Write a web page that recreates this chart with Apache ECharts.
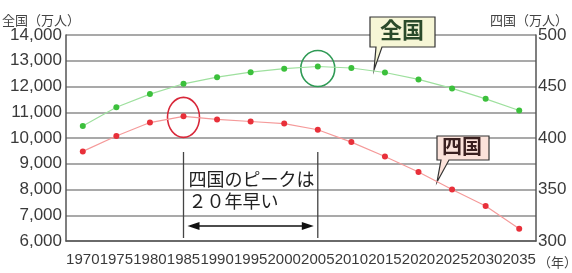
<!DOCTYPE html>
<html>
<head>
<meta charset="utf-8">
<script src="https://cdn.jsdelivr.net/npm/echarts@6/dist/echarts.min.js"></script>
<style>
  html, body { margin: 0; padding: 0; background: #fff; }
  #chart { width: 572px; height: 273px; }
</style>
</head>
<body>
<div id="chart"></div>
<script>
var years = ['1970', '1975', '1980', '1985', '1990', '1995', '2000', '2005', '2010', '2015', '2020', '2025', '2030', '2035']
// 全国（万人）
var zenkoku = [10467, 11194, 11706, 12105, 12361, 12557, 12693, 12777, 12718, 12543, 12274, 11927, 11522, 11068]
// 四国（万人）
var shikoku = [387, 402, 415, 421, 418, 416, 414, 408, 396, 382, 367, 350, 334, 312]

var jp = '"Noto Sans CJK JP", sans-serif'
var num = '"Liberation Sans", Arial, sans-serif'

var myChart = echarts.init(document.getElementById('chart'))
var option = {
  animation: false,
  grid: { left: 66, right: 36, top: 35, bottom: 32 },
  xAxis: {
    type: 'category',
    data: years,
    boundaryGap: true,
    axisLine: { lineStyle: { color: '#555', width: 1.5 } },
    axisTick: { inside: true, alignWithLabel: true, length: 4, lineStyle: { color: '#777' } },
    axisLabel: { interval: 0, fontSize: 15, fontFamily: num, color: '#3a3a3a', margin: 11 }
  },
  yAxis: [
    {
      type: 'value',
      min: 6000,
      max: 14000,
      interval: 1000,
      axisLine: { show: true, lineStyle: { color: '#555', width: 1.5 } },
      axisTick: { show: false },
      splitLine: { lineStyle: { color: '#8c8c8c', width: 1.6 } },
      axisLabel: {
        fontSize: 17, fontFamily: num, color: '#3a3a3a', margin: 4,
        formatter: function (v) { return v.toLocaleString('en-US') }
      }
    },
    {
      type: 'value',
      min: 300,
      max: 500,
      interval: 50,
      position: 'right',
      axisLine: { show: true, lineStyle: { color: '#555', width: 1.5 } },
      axisTick: { show: false },
      splitLine: { show: false },
      axisLabel: { fontSize: 17, fontFamily: num, color: '#3a3a3a', margin: 2 }
    }
  ],
  series: [
    {
      name: '全国',
      type: 'line',
      yAxisIndex: 0,
      data: zenkoku,
      symbol: 'circle',
      symbolSize: 6,
      lineStyle: { color: '#9ee09e', width: 1.2 },
      itemStyle: { color: '#3cc03c' }
    },
    {
      name: '四国',
      type: 'line',
      yAxisIndex: 1,
      data: shikoku,
      symbol: 'circle',
      symbolSize: 6,
      lineStyle: { color: '#f59a9a', width: 1.2 },
      itemStyle: { color: '#e8303a' }
    }
  ]
}
myChart.setOption(option)

// 注釈（データ点の位置から計算）
var pRed = myChart.convertToPixel({ xAxisIndex: 0, yAxisIndex: 1 }, ['1985', shikoku[3]])
var pGreen = myChart.convertToPixel({ xAxisIndex: 0, yAxisIndex: 0 }, ['2005', zenkoku[7]])
var x85 = pRed[0]
var x05 = pGreen[0]

myChart.setOption({
  graphic: [
    { type: 'text', left: 2, top: 14, style: { text: '全国（万人）', font: '13px ' + jp, fill: '#444' } },
    { type: 'text', right: 4, top: 14, style: { text: '四国（万人）', font: '13px ' + jp, fill: '#444' } },
    { type: 'text', left: 538, top: 256, style: { text: '（年）', font: '13px ' + jp, fill: '#444' } },
    {
      type: 'ellipse',
      shape: { cx: pRed[0], cy: pRed[1] + 1, rx: 16, ry: 20 },
      style: { fill: 'none', stroke: '#d8283a', lineWidth: 1.6 }
    },
    {
      type: 'ellipse',
      shape: { cx: pGreen[0], cy: pGreen[1] + 2, rx: 17, ry: 18 },
      style: { fill: 'none', stroke: '#2f9a55', lineWidth: 1.6 }
    },
    {
      type: 'polygon',
      shape: { points: [[370, 17], [435, 17], [435, 47], [382, 47], [374, 70], [376, 47], [370, 47]] },
      style: { fill: '#f6f6d6', stroke: '#333', lineWidth: 1.2 }
    },
    { type: 'text', left: 380, top: 19, style: { text: '全国', font: 'bold 22px ' + jp, fill: '#2a4a2a' } },
    {
      type: 'polygon',
      shape: { points: [[437, 136], [489, 136], [489, 160], [449, 160], [437, 182], [441, 160], [437, 160]] },
      style: { fill: '#fbe2da', stroke: '#333', lineWidth: 1.2 }
    },
    { type: 'text', left: 442, top: 136, style: { text: '四国', font: 'bold 20px ' + jp, fill: '#3a2020' } },
    { type: 'line', shape: { x1: x85, y1: 152, x2: x85, y2: 238 }, style: { stroke: '#444', lineWidth: 1.3 } },
    { type: 'line', shape: { x1: x05, y1: 152, x2: x05, y2: 238 }, style: { stroke: '#444', lineWidth: 1.3 } },
    { type: 'text', left: x85 + 5, top: 170, style: { text: '四国のピークは', font: '18px ' + jp, fill: '#222' } },
    { type: 'text', left: x85 + 5, top: 192, style: { text: '２０年早い', font: '18px ' + jp, fill: '#222' } },
    { type: 'line', shape: { x1: x85 + 10, y1: 226, x2: x05 - 10, y2: 226 }, style: { stroke: '#111', lineWidth: 1.4 } },
    { type: 'polygon', shape: { points: [[x85 + 4, 226], [x85 + 16, 222], [x85 + 16, 230]] }, style: { fill: '#111' } },
    { type: 'polygon', shape: { points: [[x05 - 4, 226], [x05 - 16, 222], [x05 - 16, 230]] }, style: { fill: '#111' } }
  ]
})
</script>
</body>
</html>
